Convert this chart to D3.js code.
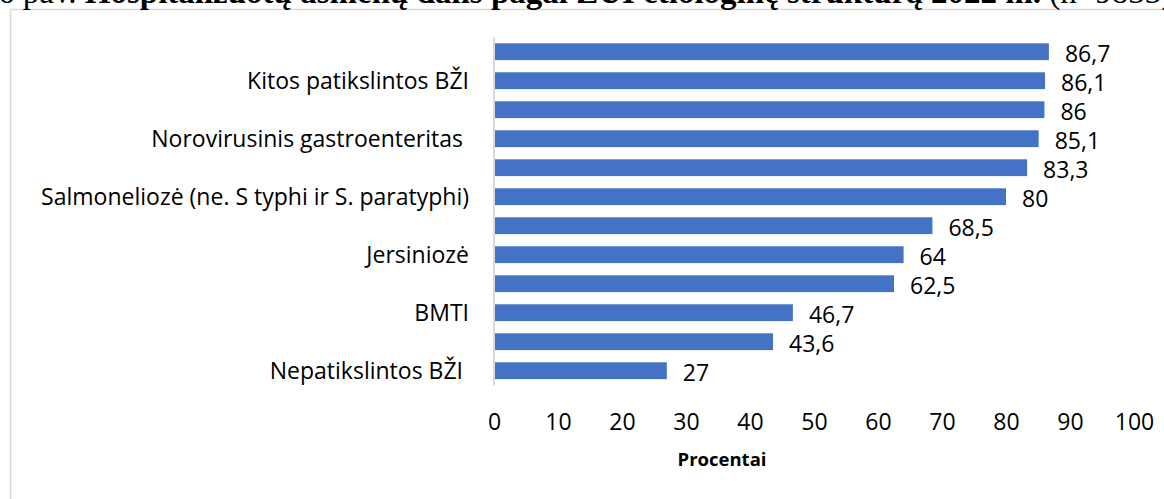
<!DOCTYPE html>
<html>
<head>
<meta charset="utf-8">
<script src="https://cdn.jsdelivr.net/npm/d3@7"></script>
<style>
  html, body { margin: 0; padding: 0; background: #fff; }
  svg { display: block; }
  text { white-space: pre; }
</style>
</head>
<body>
<svg id="chart" width="1164" height="499"></svg>
<script>
// ---- data ----
const categories = ["", "Kitos patikslintos BŽI", "", "Norovirusinis gastroenteritas ", "", "Salmoneliozė (ne. S typhi ir S. paratyphi)", "", "Jersiniozė", "", "BMTI", "", "Nepatikslintos BŽI "];
const values = [86.7, 86.1, 86, 85.1, 83.3, 80, 68.5, 64, 62.5, 46.7, 43.6, 27];
const xTicks = [0, 10, 20, 30, 40, 50, 60, 70, 80, 90, 100];
const axisTitle = "Procentai";
const titleParts = [
  { text: "6 pav. ", bold: false },
  { text: "Hospitalizuotų asmenų dalis pagal ŽUI etiologinę struktūrą 2022 m.", bold: true },
  { text: " (n=9833)", bold: false }
];

// ---- layout ----
const W = 1164, H = 499;
const plot = { left: 494, right: 1134, top: 37.2, bottom: 385.2 };
const font = "'Open Sans', Lato, sans-serif";
const fs = 23;
const barColor = "#4472C4";

const svg = d3.select("#chart");

// outer frame
svg.append("rect")
  .attr("x", 10.5).attr("y", 9.5)
  .attr("width", W + 20).attr("height", H + 20)
  .attr("fill", "#fff").attr("stroke", "#d9d9d9").attr("stroke-width", 1.5);

// title (clipped at top, as in the reference)
const title = svg.append("text")
  .attr("x", -2).attr("y", 3)
  .attr("font-family", "'Liberation Serif', 'Times New Roman', serif")
  .attr("font-size", 33)
  .attr("fill", "#000");
title.selectAll("tspan").data(titleParts).join("tspan")
  .attr("font-weight", d => d.bold ? "bold" : "normal")
  .text(d => d.text);

const idx = d3.range(values.length);
const y = d3.scaleBand().domain(idx).range([plot.top, plot.bottom])
  .paddingInner(0.42).paddingOuter(0.21);
const x = d3.scaleLinear().domain([0, 100]).range([plot.left, plot.right]);

// bars
svg.append("g").selectAll("rect").data(values).join("rect")
  .attr("x", x(0) + 1)
  .attr("y", (d, i) => y(i))
  .attr("width", d => x(d) - x(0) - 1)
  .attr("height", y.bandwidth())
  .attr("fill", barColor);

// vertical axis line
svg.append("line")
  .attr("x1", x(0)).attr("x2", x(0))
  .attr("y1", plot.top).attr("y2", plot.bottom)
  .attr("stroke", "#d9d9d9").attr("stroke-width", 2);

// category axis
const yAxis = d3.axisLeft(y).tickSize(0).tickPadding(25).tickFormat(i => categories[i]);
const gy = svg.append("g").attr("transform", `translate(${x(0)},0)`).call(yAxis);
gy.select(".domain").remove();
gy.selectAll("text")
  .attr("font-family", font).attr("font-size", fs).attr("fill", "#000")
  .attr("dy", "0.35em");

// value axis
const xAxis = d3.axisBottom(x).tickValues(xTicks).tickSize(0).tickPadding(0).tickFormat(d3.format("d"));
const gx = svg.append("g").attr("transform", `translate(0,${plot.bottom})`).call(xAxis);
gx.select(".domain").remove();
gx.selectAll("text")
  .attr("font-family", font).attr("font-size", fs).attr("fill", "#000")
  .attr("y", 422 - plot.bottom).attr("dy", "0.35em");

// axis title
svg.append("text")
  .attr("x", 722).attr("y", 460).attr("dy", "0.35em")
  .attr("text-anchor", "middle")
  .attr("font-family", font).attr("font-size", 18.5).attr("font-weight", "bold")
  .attr("fill", "#000")
  .text(axisTitle);

// data labels
const fmt = v => String(v).replace(".", ",");
svg.append("g").selectAll("text").data(values).join("text")
  .attr("x", d => x(d) + 16)
  .attr("y", (d, i) => y(i) + y.bandwidth() / 2 + 2)
  .attr("dy", "0.35em")
  .attr("font-family", font).attr("font-size", fs).attr("fill", "#000")
  .text(fmt);
</script>
</body>
</html>
